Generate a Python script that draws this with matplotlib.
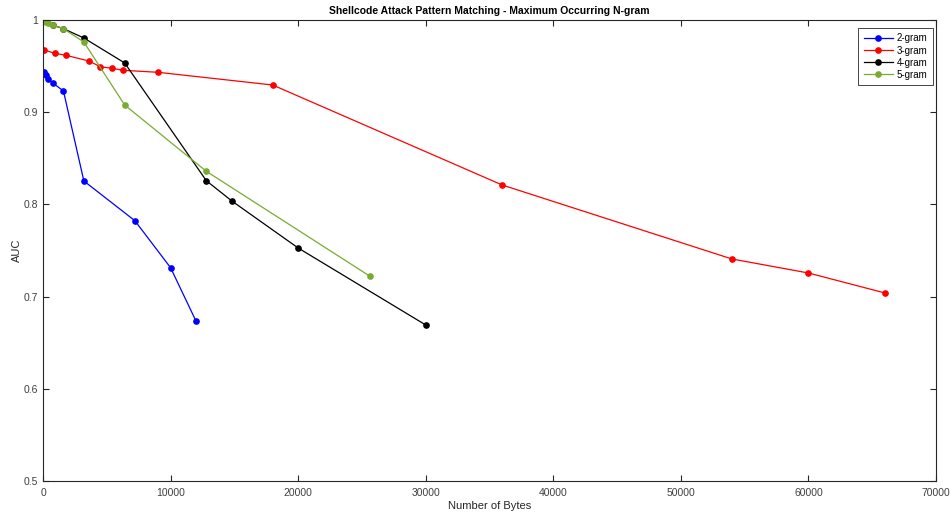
import matplotlib
matplotlib.use("Agg")
import matplotlib.pyplot as plt
from matplotlib.ticker import FuncFormatter

plt.rcParams['font.family'] = ['Liberation Sans', 'DejaVu Sans']

# AUC versus number of bytes for each n-gram size
bytes_2gram = [100, 200, 400, 800, 1600, 3200, 7200, 10000, 12000]
auc_2gram = [0.9433, 0.9407, 0.936, 0.9313, 0.923, 0.8254, 0.7823, 0.7313, 0.6732]

bytes_3gram = [100, 900, 1800, 3600, 4500, 5400, 6300, 9000, 18000, 36000, 54000, 60000, 66000]
auc_3gram = [0.9675, 0.9639, 0.9617, 0.9555, 0.9493, 0.9476, 0.9454, 0.9433, 0.9295,
             0.821, 0.7408, 0.7256, 0.7039]

bytes_4gram = [100, 800, 1600, 3200, 6400, 12800, 14800, 20000, 30000]
auc_4gram = [0.9989, 0.9943, 0.9906, 0.9805, 0.9534, 0.8257, 0.8037, 0.7527, 0.6692]

bytes_5gram = [100, 200, 400, 800, 1600, 3200, 6400, 12800, 25600]
auc_5gram = [0.9992, 0.9982, 0.9964, 0.9943, 0.9906, 0.9761, 0.9078, 0.8359, 0.7223]

series = [
    ("2-gram", bytes_2gram, auc_2gram, (0, 0, 1)),
    ("3-gram", bytes_3gram, auc_3gram, (1, 0, 0)),
    ("4-gram", bytes_4gram, auc_4gram, (0, 0, 0)),
    ("5-gram", bytes_5gram, auc_5gram, (0.47, 0.67, 0.19)),
]

x_ticks = [0, 10000, 20000, 30000, 40000, 50000, 60000, 70000]
y_ticks = [0.5, 0.6, 0.7, 0.8, 0.9, 1.0]

fig = plt.figure(figsize=(9.5, 5.14), dpi=100)
ax = fig.add_axes([0.0453, 0.0642, 0.9400, 0.8969])

for nome, xs, ys, cor in series:
    ax.plot(xs, ys, '-o', color=cor, linewidth=0.9, markersize=3.8, label=nome)

ax.set_xlim(0, 70000)
ax.set_ylim(0.5, 1.0)
ax.set_xticks(x_ticks)
ax.set_yticks(y_ticks)
ax.yaxis.set_major_formatter(FuncFormatter(lambda v, p: f"{v:g}"))

cinza = '#262626'
ax.tick_params(direction='in', length=4, width=0.8, labelsize=7.5,
               colors=cinza, labelcolor='#404040', top=True, right=True)
ax.tick_params(axis='x', pad=5)
for s in ax.spines.values():
    s.set_color(cinza)
    s.set_linewidth(0.8)

ax.set_title("Shellcode Attack Pattern Matching - Maximum Occurring N-gram",
             fontsize=7.5, fontweight='bold', pad=4)
ax.set_xlabel("Number of Bytes", fontsize=8, color='#262626', labelpad=2)
ax.set_ylabel("AUC", fontsize=8, color='#262626', labelpad=1)

leg = ax.legend(loc='upper right', bbox_to_anchor=(0.9966, 0.9826), fontsize=7,
                handlelength=3.0, handletextpad=0.4, labelspacing=0.22,
                borderpad=0.55, borderaxespad=0, fancybox=False, framealpha=1)
leg.get_frame().set_edgecolor(cinza)
leg.get_frame().set_linewidth(0.6)

fig.savefig("out.png", dpi=100)
